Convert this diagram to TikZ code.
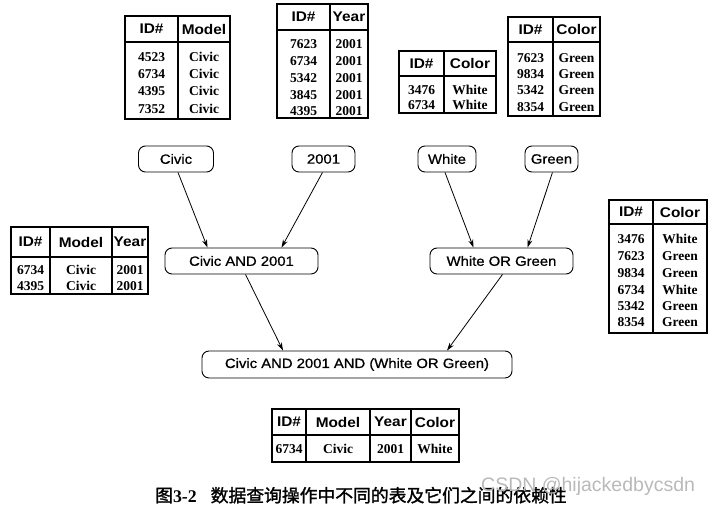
\documentclass[tikz,border=0pt]{standalone}
\usepackage{fontspec}
\setmainfont{Liberation Serif}
\setsansfont{Liberation Sans}[FakeStretch=1.1]
\newfontfamily\qfont{Liberation Sans}[FakeStretch=1.1,FakeBold=0.8]
\newfontfamily\cjk[FakeBold=1.5]{Noto Sans CJK SC}
\newfontfamily\wmfont{Liberation Sans}
\usetikzlibrary{arrows.meta}
\newcommand{\tframe}[5]{\draw[tab] (#1,#2) rectangle (#3,#4); \draw[tab] (#1,#5) -- (#3,#5);}

\tikzset{
  query/.style={draw, rounded corners=7pt, line width=0.9pt, minimum height=26pt,
    inner xsep=4pt, font=\qfont\fontsize{13.5}{15}\selectfont},
  hd/.style={font=\sffamily\bfseries\fontsize{14}{16}\selectfont, inner sep=0pt},
  dat/.style={font=\bfseries\fontsize{13.5}{15}\selectfont, inner sep=0pt},
  tab/.style={line width=1.1pt},
}

\begin{document}
\begin{tikzpicture}[x=1pt,y=-1pt,>={Stealth[length=8pt,width=5pt]}]
  \useasboundingbox (0,0) rectangle (713,511);

  % Model table
  \tframe{125}{16}{230}{119}{42}
  \draw[tab] (178,16) -- (178,119);
  \node[hd] (mid) at (151.5,29) {ID\#};
  \node[hd] (mmod) at (204,29) {Model};
  \foreach \i/\y in {4523/57,6734/74,4395/91,7352/109}
    {\node[dat] (m\i) at (151.5,\y) {\i}; \node[dat] (mc\i) at (204,\y) {Civic};}

  % Year table
  \tframe{277}{4}{368}{118}{30}
  \draw[tab] (330,4) -- (330,118);
  \node[hd] (yid) at (303.5,17) {ID\#};
  \node[hd] (yyr) at (349,17) {Year};
  \foreach \i/\y in {7623/44,6734/61,5342/78,3845/95,4395/111}
    {\node[dat] (y\i) at (303.5,\y) {\i}; \node[dat] (yv\i) at (349,\y) {2001};}

  % White table
  \tframe{399}{51}{496}{113}{76}
  \draw[tab] (444,51) -- (444,113);
  \node[hd] (wid) at (421.5,63.5) {ID\#};
  \node[hd] (wcol) at (470,63.5) {Color};
  \foreach \i/\y in {3476/90,6734/105}
    {\node[dat] (w\i) at (421.5,\y) {\i}; \node[dat] (wv\i) at (470,\y) {White};}

  % Green table
  \tframe{508}{17}{600}{116}{42}
  \draw[tab] (553,17) -- (553,116);
  \node[hd] (gid) at (530.5,29.5) {ID\#};
  \node[hd] (gcol) at (576.5,29.5) {Color};
  \foreach \i/\y in {7623/58,9834/74,5342/90,8354/107}
    {\node[dat] (g\i) at (530.5,\y) {\i}; \node[dat] (gv\i) at (576.5,\y) {Green};}

  % Civic AND 2001 result
  \tframe{11}{227}{148}{294}{257}
  \draw[tab] (50,227) -- (50,294) (112,227) -- (112,294);
  \node[hd] (aid) at (30.5,242) {ID\#};
  \node[hd] (amod) at (81,242) {Model};
  \node[hd] (ayr) at (130,242) {Year};
  \foreach \i/\y in {6734/270,4395/286}
    {\node[dat] (a\i) at (30.5,\y) {\i}; \node[dat] (am\i) at (81,\y) {Civic};
     \node[dat] (ay\i) at (130,\y) {2001};}

  % White OR Green result
  \tframe{609}{200}{707}{333}{224}
  \draw[tab] (653,200) -- (653,333);
  \node[hd] (oid) at (631,212) {ID\#};
  \node[hd] (ocol) at (680,212) {Color};
  \foreach \i/\c/\y in {3476/White/239,7623/Green/256,9834/Green/273,
                        6734/White/290,5342/Green/306,8354/Green/322}
    {\node[dat] (o\i) at (631,\y) {\i}; \node[dat] (oc\i) at (680,\y) {\c};}

  % final result
  \tframe{272}{409}{459}{462}{435}
  \draw[tab] (306,409) -- (306,462) (370,409) -- (370,462) (411,409) -- (411,462);
  \node[hd] (fid) at (289,422) {ID\#};
  \node[hd] (fmod) at (338,422) {Model};
  \node[hd] (fyr) at (390.5,422) {Year};
  \node[hd] (fcol) at (435,422) {Color};
  \node[dat] (f1) at (289,449) {6734};
  \node[dat] (f2) at (338,449) {Civic};
  \node[dat] (f3) at (390.5,449) {2001};
  \node[dat] (f4) at (435,449) {White};

  % queries
  \node[query, minimum width=75pt] (civic) at (176,159) {Civic};
  \node[query, minimum width=63pt] (yr) at (323.5,159) {2001};
  \node[query, minimum width=58pt] (white) at (447,159) {White};
  \node[query, minimum width=53pt] (green) at (551.5,159) {Green};
  \node[query, minimum width=153pt] (and12) at (241.5,261) {Civic AND 2001};
  \node[query, minimum width=143pt] (orwg) at (501.5,261) {White OR Green};
  \node[query, minimum width=310pt, minimum height=27pt] (all) at (357,364.5)
    {Civic AND 2001 AND (White OR Green)};

  \path[->,line width=0.8pt]
    ([xshift=2]civic.south) edge ([xshift=-34]and12.north)
    ([xshift=-1]yr.south) edge ([xshift=40]and12.north)
    ([xshift=-2]white.south) edge ([xshift=-28]orwg.north)
    ([xshift=1]green.south) edge ([xshift=26]orwg.north)
    ([xshift=4]and12.south) edge ([xshift=-74]all.north)
    ([xshift=1]orwg.south) edge ([xshift=90]all.north);

  % caption
  \node[anchor=base west, inner sep=0pt, font=\fontsize{17.8}{20}\selectfont] (cap) at (155,502)
    {{\cjk 图}\textbf{3-2}\hspace{14pt}{\cjk 数据查询操作中不同的表及它们之间的依赖性}};
  \node[anchor=base west, inner sep=0pt, text=gray!55, font=\wmfont\fontsize{19.5}{22}\selectfont]
    (wm) at (481,491) {CSDN @hijackedbycsdn};
\end{tikzpicture}
\end{document}
